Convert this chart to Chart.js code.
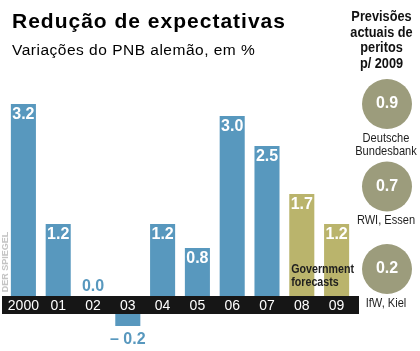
<!DOCTYPE html>
<html><head><meta charset="utf-8">
<script src="https://cdn.jsdelivr.net/npm/chart.js@4"></script>
<style>
html,body{margin:0;padding:0;background:#fff;}
#wrap{position:relative;width:420px;height:351px;overflow:hidden;}
#main{position:absolute;left:0;top:0;}
#side{position:absolute;left:335px;top:0;}
</style></head><body>
<div id="wrap"><canvas id="main" width="420" height="351"></canvas><canvas id="side" width="85" height="351"></canvas></div>
<script>
// ---- data ----
const years = ["2000","01","02","03","04","05","06","07","08","09"];
const growth = [3.2, 1.2, 0.0, -0.2, 1.2, 0.8, 3.0, 2.5, 1.7, 1.2];
const kind = ["actual","actual","actual","actual","actual","actual","actual","actual","forecast","forecast"];
const expertNames = [["Deutsche","Bundesbank"],["RWI, Essen"],["IfW, Kiel"]];
const expertForecast2009 = [0.9, 0.7, 0.2];
const titleText = "Redução de expectativas";
const subtitleText = "Variações do PNB alemão, em %";
const sideHeading = ["Previsões","actuais de","peritos","p/ 2009"];
const forecastNote = ["Government","forecasts"];
const sourceText = "DER SPIEGEL";

// ---- styles ----
const BLUE = "#5898be";
const GOLD = "#bab46c";
const BAND = "#161616";
const CIRCLE = "#9c9c7c";
const GAP = 0.3; // axis band height in value units (negative bars start below the band)
const SANS = "'Liberation Sans', Arial, sans-serif";

const fmt = v => v < 0 ? "\u2013 " + Math.abs(v).toFixed(1) : v.toFixed(1);

// draw horizontally condensed text
function narrowText(ctx, text, x, y, font, sx, align) {
  ctx.save();
  ctx.translate(x, y);
  ctx.scale(sx, 1);
  ctx.font = font;
  ctx.textAlign = align;
  ctx.fillText(text, 0, 0);
  ctx.restore();
}

const mainPlugin = {
  id: "mainDecor",
  beforeDatasetsDraw(chart) {
    const ctx = chart.ctx, y = chart.scales.y, x = chart.scales.x;
    const y0 = y.getPixelForValue(0), yg = y.getPixelForValue(-GAP);
    ctx.save();
    ctx.fillStyle = BAND;
    ctx.fillRect(2, y0, 357, yg - y0);
    ctx.fillStyle = "#fff";
    ctx.font = "14px " + SANS;
    ctx.textAlign = "center";
    ctx.textBaseline = "middle";
    years.forEach((t, i) => ctx.fillText(t, x.getPixelForValue(i), (y0 + yg) / 2 + 1));
    ctx.restore();
  },
  afterDatasetsDraw(chart) {
    const ctx = chart.ctx, y = chart.scales.y;
    const meta = chart.getDatasetMeta(0);
    const y0 = y.getPixelForValue(0);
    ctx.save();
    ctx.font = "bold 16px " + SANS;
    ctx.textAlign = "center";
    ctx.textBaseline = "middle";
    growth.forEach((v, i) => {
      const bar = meta.data[i];
      if (v > 0) {
        ctx.fillStyle = "#fff";
        ctx.fillText(fmt(v), bar.x, bar.y + 11);
      } else if (v === 0) {
        ctx.fillStyle = BLUE;
        ctx.fillText(fmt(v), bar.x, y0 - 9);
      } else {
        ctx.fillStyle = BLUE;
        ctx.fillText(fmt(v), bar.x, bar.y + 14);
      }
    });
    // forecast note
    const first = kind.indexOf("forecast");
    const fb = meta.data[first];
    ctx.fillStyle = "#1e1e1e";
    forecastNote.forEach((t, k) => narrowText(ctx, t, fb.x - fb.width / 2 + 2, y0 - 27 + k * 13, "bold 13px " + SANS, 0.82, "left"));
    // source
    ctx.save();
    ctx.translate(6, 262);
    ctx.rotate(-Math.PI / 2);
    ctx.textAlign = "center";
    ctx.fillStyle = "#c4c4c4";
    ctx.font = "bold 9px " + SANS;
    ctx.fillText(sourceText, 0, 0);
    ctx.restore();
    // titles
    ctx.fillStyle = "#000";
    ctx.textAlign = "left";
    ctx.textBaseline = "alphabetic";
    ctx.font = "bold 21px " + SANS;
    ctx.letterSpacing = "1px";
    ctx.fillText(titleText, 12, 28);
    ctx.font = "15.5px " + SANS;
    ctx.letterSpacing = "0.5px";
    ctx.fillText(subtitleText, 12, 55);
    ctx.letterSpacing = "0px";
    ctx.restore();
  }
};

new Chart(document.getElementById("main"), {
  type: "bar",
  data: {
    labels: years,
    datasets: [{
      data: growth.map(v => v < 0 ? [-GAP, -GAP + v] : [0, v]),
      backgroundColor: kind.map(k => k === "forecast" ? GOLD : BLUE),
      borderWidth: 0,
      barPercentage: 0.72,
      categoryPercentage: 1
    }]
  },
  options: {
    responsive: false,
    animation: false,
    layout: { autoPadding: false, padding: { left: 6, right: 66, top: 80, bottom: 1 } },
    plugins: { legend: { display: false }, tooltip: { enabled: false }, title: { display: false } },
    scales: {
      x: { display: false },
      y: { display: false, min: -0.9, max: 3.6 }
    }
  },
  plugins: [mainPlugin]
});

const sidePlugin = {
  id: "sideDecor",
  afterDatasetsDraw(chart) {
    const ctx = chart.ctx;
    const meta = chart.getDatasetMeta(0);
    ctx.save();
    ctx.textBaseline = "middle";
    // heading
    ctx.fillStyle = "#111";
    sideHeading.forEach((t, k) => narrowText(ctx, t, 46.5, 17 + k * 15.5, "bold 15px " + SANS, 0.85, "center"));
    expertForecast2009.forEach((v, i) => {
      const p = meta.data[i];
      ctx.fillStyle = "#fff";
      ctx.font = "bold 16px " + SANS;
      ctx.textAlign = "center";
      ctx.fillText(fmt(v), p.x, p.y);
      ctx.fillStyle = "#1e1e1e";
      expertNames[i].forEach((t, k) => narrowText(ctx, t, p.x - 1, p.y + 34 + k * 13, "13.5px " + SANS, 0.82, "center"));
    });
    ctx.restore();
  }
};

new Chart(document.getElementById("side"), {
  type: "scatter",
  data: {
    datasets: [{
      data: expertForecast2009.map((v, i) => ({ x: 0, y: i })),
      backgroundColor: CIRCLE,
      borderWidth: 0,
      pointRadius: 25,
      pointHoverRadius: 25,
      clip: false
    }]
  },
  options: {
    responsive: false,
    animation: false,
    layout: { autoPadding: false, padding: { left: 19, right: 0, top: 104, bottom: 82 } },
    plugins: { legend: { display: false }, tooltip: { enabled: false } },
    scales: {
      x: { display: false, min: -1, max: 1 },
      y: { display: false, min: 0, max: 2, reverse: true }
    }
  },
  plugins: [sidePlugin]
});
</script>
</body></html>
